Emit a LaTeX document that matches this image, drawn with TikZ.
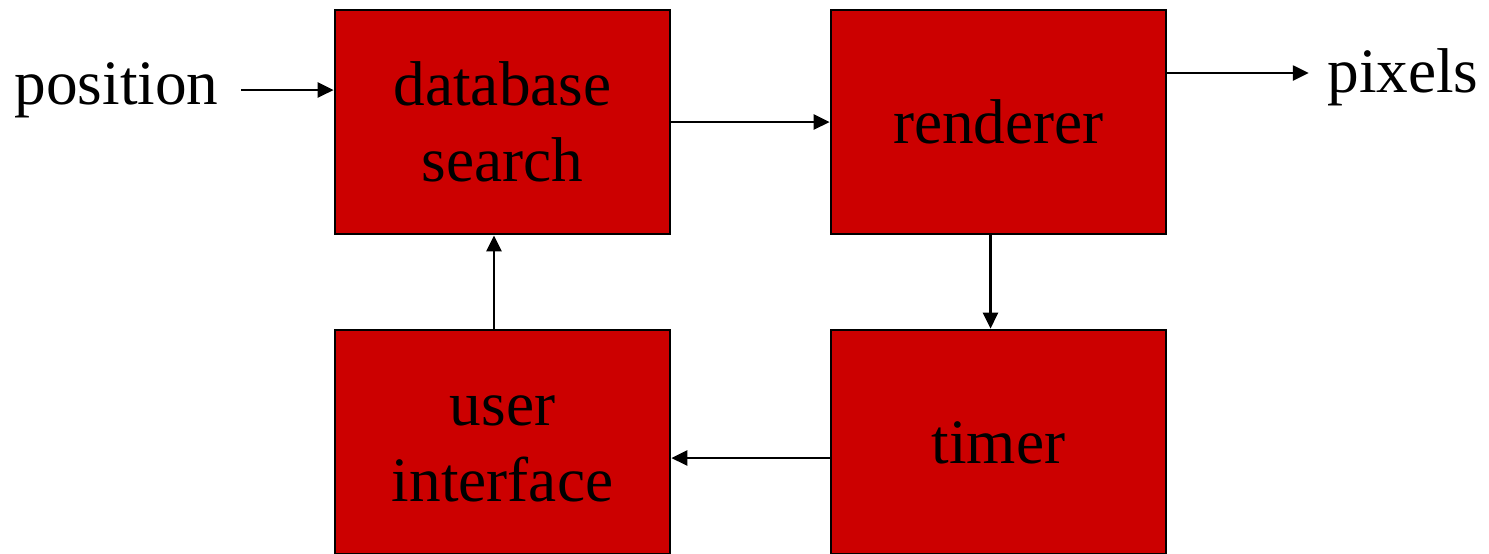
\documentclass[tikz,border=0pt]{standalone}
\usepackage{fontspec}
\setmainfont{Liberation Serif}
\usetikzlibrary{arrows.meta}
\definecolor{boxred}{HTML}{CC0000}
\tikzset{
	block/.style={draw=black, line width=0.27mm, fill=boxred, minimum width=3.35cm, minimum height=2.24cm, align=center, inner sep=0pt, text height=12.4pt, text depth=0pt, font=\fontsize{18}{21.6}\selectfont},
	twoline/.style={text height=34pt},
	label/.style={font=\fontsize{18}{21.6}\selectfont},
	flow/.style={line width=0.27mm, -{Triangle[length=1.6mm, width=1.5mm]}}
}

\begin{document}
\begin{tikzpicture}
		%%%%% START %%%%%
		
		\clip (0, 0) rectangle (14.89, -5.53);
		
		\node[block, twoline] (db) at (5.025, -1.22) {database\\search};
		\node[block] (rend) at (9.985, -1.22) {renderer};
		\node[block, twoline] (ui) at (5.025, -4.42) {user\\interface};
		\node[block] (timer) at (9.985, -4.42) {timer};
		
		\node[label, inner xsep=2.2mm] (pos) at (1.165, -0.90) {position};
		\node[label, inner xsep=1.8mm] (pix) at (14.03, -0.77) {pixels};
		
		\draw[flow] (pos.east) -- (pos.east -| db.west);
		\draw[flow] (db) -- (rend);
		\draw[flow] ([yshift=0.04cm]pix.west -| rend.east) -- ([yshift=0.04cm]pix.west);
		\draw[flow] ([xshift=-0.08cm]rend.south) -- ([xshift=-0.08cm]timer.north);
		\draw[flow] ([yshift=-0.16cm]timer.west) -- ([yshift=-0.16cm]ui.east);
		\draw[flow] ([xshift=-0.085cm]ui.north) -- ([xshift=-0.085cm]db.south);
		
		%%%%% END %%%%%
	\end{tikzpicture}
\end{document}
